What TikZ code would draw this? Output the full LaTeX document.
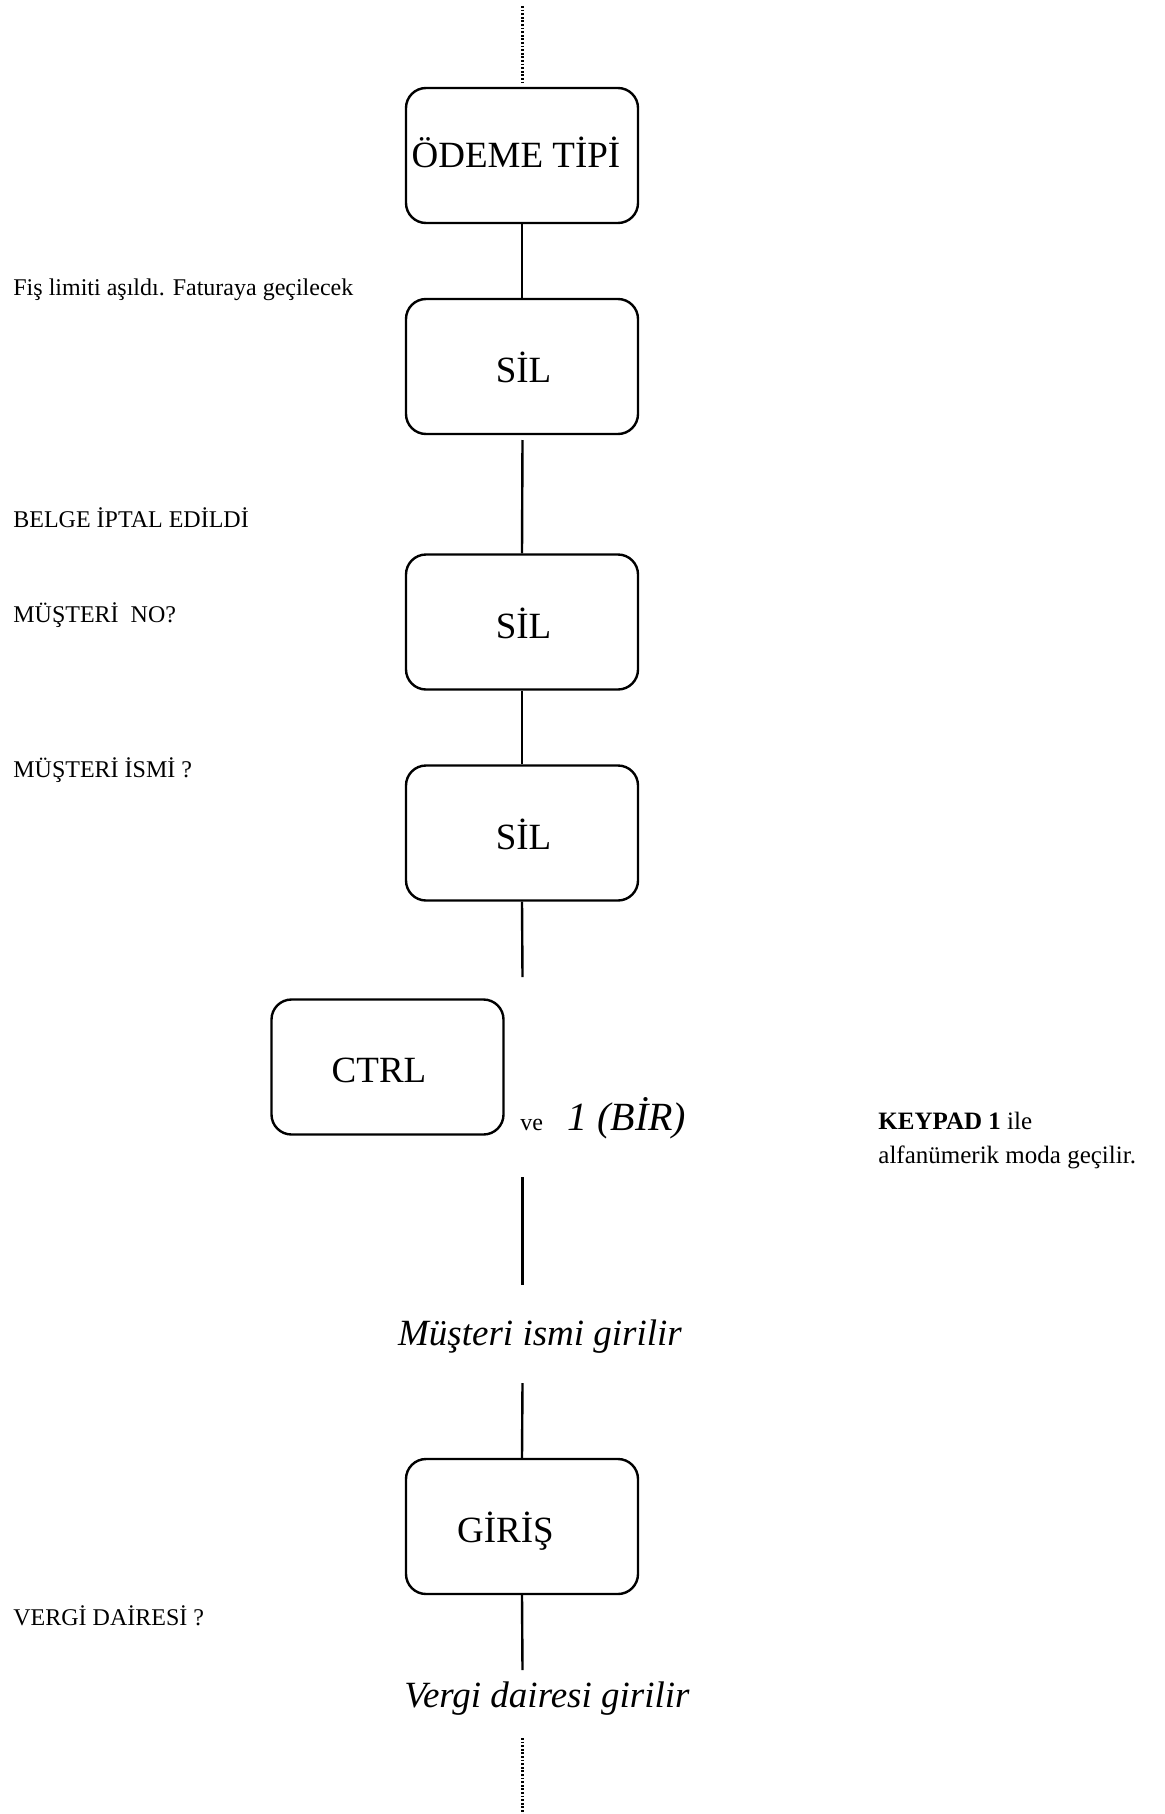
\documentclass[tikz,border=0pt]{standalone}
\usepackage{fontspec}
\setmainfont{Liberation Serif}
\tikzset{
  keybox/.style={draw, line width=1.2pt, rounded corners=10pt, minimum width=116pt, minimum height=67.5pt, inner sep=0pt},
  boxtext/.style={anchor=base, inner sep=0pt, font=\fontsize{18.5pt}{22pt}\selectfont},
  steptext/.style={anchor=base, inner sep=0pt, font=\fontsize{18.5pt}{22pt}\selectfont\itshape},
  msg/.style={anchor=base west, inner sep=0pt, font=\fontsize{12pt}{14pt}\selectfont},
  note/.style={anchor=base west, inner sep=0pt, font=\fontsize{12.5pt}{15pt}\selectfont},
  link/.style={line width=1.2pt},
  dotlink/.style={line width=1.3pt, dash pattern=on 0.9pt off 0.9pt}
}
\begin{document}
\begin{tikzpicture}[x=0.5pt,y=-0.5pt]
\useasboundingbox (0,0) rectangle (1165,1814);

% boxes
\node[keybox] (odeme) at (522,155.5) {};
\node[keybox] (sil1) at (522,366.5) {};
\node[keybox] (sil2) at (522,622) {};
\node[keybox] (sil3) at (522,833) {};
\node[keybox] (ctrl) at (387.5,1067) {};
\node[keybox] (giris) at (522,1526.5) {};

% box texts
\node[boxtext] (todeme) at (516,168) {ÖDEME TİPİ};
\node[boxtext] (tsil1) at (523.5,382) {SİL};
\node[boxtext] (tsil2) at (523.5,638) {SİL};
\node[boxtext] (tsil3) at (523.5,849) {SİL};
\node[boxtext] (tctrl) at (379,1082) {CTRL};
\node[boxtext] (tgiris) at (505.5,1542) {GİRİŞ};

% side texts
\node[msg] (fis) at (13,295) {Fiş limiti aşıldı. Faturaya geçilecek};
\node[msg] (belge) at (13,527) {BELGE İPTAL EDİLDİ};
\node[msg] (musno) at (13,622) {MÜŞTERİ\ \ NO?};
\node[msg] (musism) at (13,777) {MÜŞTERİ İSMİ ?};
\node[msg] (vergi) at (13,1625) {VERGİ DAİRESİ ?};

\node[msg] (ve) at (520,1130) {ve};
\node[anchor=base west, inner sep=0pt, font=\fontsize{20pt}{24pt}\selectfont\itshape] (bir) at (567,1130) {1 (BİR)};

\node[note] (kp1) at (878,1129) {\textbf{KEYPAD 1} ile};
\node[note] (kp2) at (878,1163) {alfanümerik moda geçilir.};

\node[steptext] (musgir) at (540,1345) {Müşteri ismi girilir};
\node[steptext] (vergir) at (547,1707) {Vergi dairesi girilir};

% free ends
\coordinate (top1) at (522.5,6);
\coordinate (top2) at (522.5,82);
\coordinate (s1b) at (522.5,440);
\coordinate (s3e) at (522.5,977);
\coordinate (m1) at (522.5,1177);
\coordinate (m2) at (522.5,1285);
\coordinate (m3) at (522.5,1383);
\coordinate (g1) at (522.5,1670);
\coordinate (bot1) at (522.5,1738);
\coordinate (bot2) at (522.5,1814);

% connectors
\draw[dotlink] (top1) -- (top2);
\draw[link] (odeme.south) -- (sil1.north);
\draw[link] (s1b) -- (sil2.north);
\draw[link] (sil2.south) -- (sil3.north);
\draw[link] (sil3.south) -- (s3e);
\draw[link] (m1) -- (m2);
\draw[link] (m3) -- (giris.north);
\draw[link] (giris.south) -- (g1);
\draw[dotlink] (bot1) -- (bot2);
\end{tikzpicture}
\end{document}
